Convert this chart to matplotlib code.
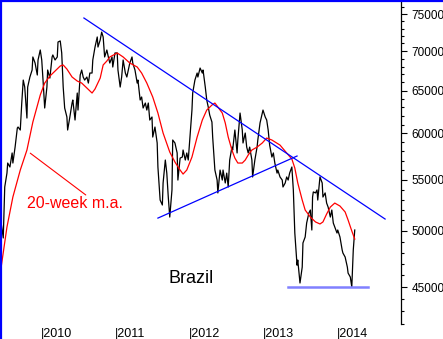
import matplotlib
matplotlib.use("Agg")
import matplotlib.pyplot as plt
from matplotlib.lines import Line2D
from matplotlib.ticker import FixedLocator, NullFormatter

plt.rcParams["font.family"] = ["Liberation Sans", "DejaVu Sans"]

# weekly close, Bovespa (decimal year, index points)
price_t = [2009.45, 2009.49, 2009.51, 2009.54, 2009.55, 2009.58, 2009.61, 2009.62, 2009.65, 2009.68,
           2009.69, 2009.72, 2009.74, 2009.76, 2009.78, 2009.81, 2009.82, 2009.85, 2009.88, 2009.89,
           2009.92, 2009.95, 2009.96, 2009.99, 2010.01, 2010.03, 2010.05, 2010.08, 2010.09, 2010.12,
           2010.15, 2010.16, 2010.19, 2010.22, 2010.23, 2010.26, 2010.28, 2010.30, 2010.32, 2010.35,
           2010.36, 2010.39, 2010.42, 2010.43, 2010.46, 2010.49, 2010.50, 2010.53, 2010.55, 2010.57,
           2010.59, 2010.62, 2010.64, 2010.66, 2010.69, 2010.70, 2010.73, 2010.76, 2010.77, 2010.80,
           2010.82, 2010.84, 2010.86, 2010.89, 2010.91, 2010.93, 2010.96, 2010.97, 2011.00, 2011.03,
           2011.04, 2011.07, 2011.09, 2011.11, 2011.14, 2011.16, 2011.18, 2011.20, 2011.23, 2011.24,
           2011.27, 2011.30, 2011.31, 2011.34, 2011.36, 2011.38, 2011.41, 2011.43, 2011.45, 2011.47,
           2011.50, 2011.51, 2011.54, 2011.57, 2011.58, 2011.61, 2011.64, 2011.65, 2011.68, 2011.70,
           2011.72, 2011.74, 2011.77, 2011.78, 2011.81, 2011.84, 2011.85, 2011.88, 2011.91, 2011.92,
           2011.95, 2011.97, 2011.99, 2012.01, 2012.04, 2012.05, 2012.08, 2012.11, 2012.12, 2012.15,
           2012.18, 2012.19, 2012.22, 2012.24, 2012.26, 2012.28, 2012.31, 2012.32, 2012.35, 2012.38,
           2012.39, 2012.42, 2012.45, 2012.46, 2012.49, 2012.51, 2012.53, 2012.55, 2012.58, 2012.59,
           2012.62, 2012.65, 2012.66, 2012.69, 2012.72, 2012.73, 2012.76, 2012.78, 2012.80, 2012.82,
           2012.85, 2012.86, 2012.89, 2012.92, 2012.93, 2012.96, 2012.99, 2013.00, 2013.03, 2013.05,
           2013.07, 2013.09, 2013.12, 2013.14, 2013.16, 2013.19, 2013.20, 2013.23, 2013.26, 2013.27,
           2013.30, 2013.32, 2013.34, 2013.36, 2013.39, 2013.41, 2013.43, 2013.46, 2013.47, 2013.50,
           2013.53, 2013.54, 2013.57, 2013.59, 2013.62, 2013.64, 2013.66, 2013.67, 2013.68, 2013.71,
           2013.73, 2013.74, 2013.77, 2013.80, 2013.81, 2013.84, 2013.86, 2013.88, 2013.91, 2013.93,
           2013.95, 2013.97, 2014.00, 2014.01, 2014.04, 2014.07, 2014.08, 2014.11, 2014.14, 2014.15,
           2014.18, 2014.20, 2014.22, 2014.24]
price = [51300, 49330, 54270, 55700, 56760, 56340, 57840, 56760, 58480, 60600,
         60720, 60380, 63510, 66300, 65440, 61750, 65440, 66680, 67560, 69230,
         68450, 66930, 68840, 70140, 68840, 65930, 62920, 65440, 67560, 66550,
         69230, 69490, 68840, 69230, 71200, 71340, 69750, 65440, 62920, 61870,
         60380, 61870, 63510, 63870, 61520, 64710, 62680, 66930, 67560, 66680,
         66300, 66680, 65930, 67180, 67180, 68840, 70530, 71870, 70530, 71470,
         72530, 71870, 69230, 70140, 69230, 68450, 69230, 67940, 69750, 69750,
         67560, 65440, 66680, 68840, 67180, 66680, 67560, 68450, 69230, 68450,
         67560, 65930, 66300, 63870, 64230, 62920, 63510, 62680, 63510, 61520,
         61870, 59590, 60720, 58930, 56340, 52960, 52470, 54680, 57080, 55700,
         53260, 51300, 53970, 59260, 58930, 57840, 54980, 57290, 57400, 58160,
         57080, 57840, 57080, 59260, 62680, 64710, 66300, 67180, 66680, 67810,
         67180, 67560, 65440, 63870, 63040, 62100, 61290, 59590, 56020, 54980,
         53670, 56020, 54980, 56020, 54680, 55700, 54270, 57080, 58480, 58160,
         60380, 57840, 59260, 62330, 60380, 58930, 60040, 58480, 57840, 58480,
         57080, 55300, 57080, 58480, 59260, 61180, 62330, 62680, 61870, 61520,
         60380, 58700, 57400, 57840, 56760, 55700, 56020, 55300, 54980, 54270,
         54680, 55300, 54980, 55700, 56340, 53970, 49790, 46880, 47330, 45340,
         46710, 48870, 49420, 50730, 51690, 51980, 50070, 53260, 53770, 53670,
         53970, 52960, 55300, 54680, 53260, 53670, 52660, 52270, 51300, 51980,
         50730, 50360, 49790, 50070, 49420, 48230, 47960, 47600, 46710, 46190,
         45850, 45000, 48230, 50070]

# 20-week moving average
ma_t = [2009.45, 2009.54, 2009.62, 2009.72, 2009.81, 2009.89, 2009.99, 2010.05, 2010.12, 2010.19,
        2010.26, 2010.30, 2010.35, 2010.42, 2010.49, 2010.55, 2010.62, 2010.69, 2010.73, 2010.80,
        2010.84, 2010.89, 2010.93, 2011.03, 2011.11, 2011.20, 2011.30, 2011.36, 2011.43, 2011.51,
        2011.58, 2011.65, 2011.74, 2011.81, 2011.88, 2011.92, 2011.97, 2012.04, 2012.11, 2012.18,
        2012.24, 2012.31, 2012.35, 2012.39, 2012.45, 2012.49, 2012.53, 2012.58, 2012.62, 2012.66,
        2012.72, 2012.76, 2012.80, 2012.85, 2012.92, 2012.99, 2013.05, 2013.12, 2013.23, 2013.32,
        2013.39, 2013.43, 2013.47, 2013.53, 2013.57, 2013.64, 2013.71, 2013.77, 2013.81, 2013.86,
        2013.91, 2013.97, 2014.04, 2014.11, 2014.15, 2014.20, 2014.24]
ma = [46190, 50350, 53260, 56020, 58160, 61290, 64470, 65930, 66800, 67430,
      68070, 68200, 67680, 66680, 66180, 65930, 65320, 64710, 65200, 66550,
      68200, 68710, 69230, 69750, 69230, 68450, 67940, 67180, 65930, 64230,
      62330, 60040, 57940, 56870, 56020, 55600, 56020, 57400, 59590, 61520,
      62680, 63270, 63510, 63040, 62330, 61180, 59590, 58160, 57290, 56760,
      56760, 57080, 57620, 58160, 58480, 58930, 59480, 59260, 58700, 57840,
      57190, 56230, 54680, 52960, 51980, 51300, 50830, 50640, 50830, 51590,
      52270, 52660, 52370, 51790, 51015, 49980, 49230]

# trend lines (start, end)
resist_t = [2010.58, 2014.65]
resist_v = [74470, 51110]
support_t = [2011.58, 2013.46]
support_v = [51200, 57510]
floor_t = [2013.34, 2014.42]
floor_v = [45000, 45000]

years = [2010, 2011, 2012, 2013, 2014]
major_y = [45000, 50000, 55000, 60000, 65000, 70000, 75000]
minor_y = list(range(42000, 77000, 1000))

W, H = 443, 339
fig = plt.figure(figsize=(W / 100, H / 100), dpi=100)
ax = fig.add_axes([0, 1 - 324 / H, 401 / W, 323 / H])

ax.plot(price_t, price, color="black", linewidth=0.9)
ax.plot(ma_t, ma, color="#ff0000", linewidth=0.9)
ax.plot(resist_t, resist_v, color="#0000ff", linewidth=0.9)
ax.plot(support_t, support_v, color="#0000ff", linewidth=0.9)
ax.plot(floor_t, floor_v, color="#8080ff", linewidth=1.8)

ax.set_yscale("log")
ax.set_ylim(41990, 76880)
ax.set_xlim(2009.446, 2014.865)

for s in ["left", "top", "bottom"]:
    ax.spines[s].set_visible(False)
ax.spines["right"].set_linewidth(0.9)
ax.yaxis.tick_right()
ax.yaxis.set_major_locator(FixedLocator(major_y))
ax.yaxis.set_minor_locator(FixedLocator(minor_y))
ax.yaxis.set_minor_formatter(NullFormatter())
ax.set_yticklabels([str(v) for v in major_y])
ax.tick_params(axis="y", which="major", length=4.5, width=0.8, pad=3, labelsize=8.5)
ax.tick_params(axis="y", which="minor", length=2.5, width=0.8)

ax.set_xticks(years, labels=["|" + str(y) for y in years])
ax.tick_params(axis="x", length=0, pad=3, labelsize=9)
for lab in ax.get_xticklabels():
    lab.set_horizontalalignment("left")

ax.text(2011.72, 45760, "Brazil", fontsize=13, color="black", va="center")
ax.text(2009.81, 52570, "20-week m.a.", fontsize=11.5, color="#ff0000", va="center")
ax.annotate("", xy=(2009.825, 58000), xytext=(2010.635, 53300),
            arrowprops=dict(arrowstyle="-", color="#ff0000", linewidth=0.8))

# blue frame on left and top edges
fig.add_artist(Line2D([1.2 / W, 1.2 / W], [0, 1], color="#0000ff", linewidth=1.6))
fig.add_artist(Line2D([0, 1], [1 - 1.2 / H, 1 - 1.2 / H], color="#0000ff", linewidth=1.6))

fig.savefig("out.png", dpi=100)
